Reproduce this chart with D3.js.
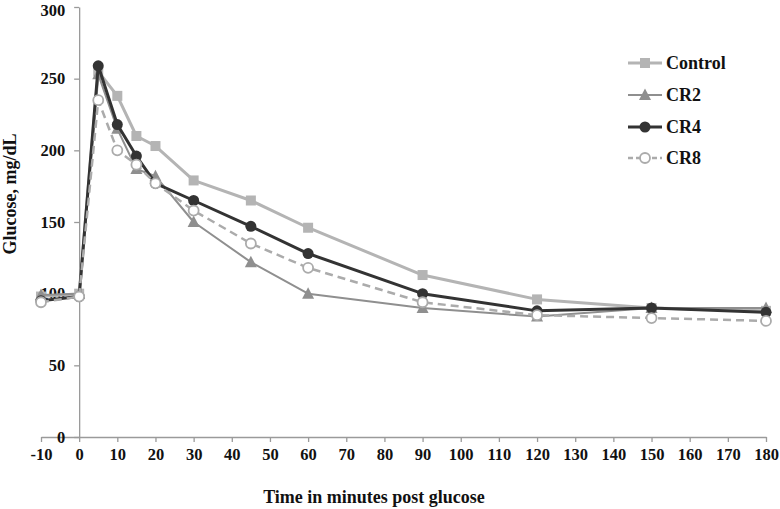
<!DOCTYPE html>
<html>
<head>
<meta charset="utf-8">
<script src="https://cdn.jsdelivr.net/npm/d3@7"></script>
<style>
  body { margin: 0; background: #fff; }
  svg { display: block; }
  text { font-family: "Liberation Serif", "Times New Roman", serif; font-weight: bold; fill: #111; }
</style>
</head>
<body>
<svg id="chart" width="780" height="509"></svg>
<script>
const times = [-10, 0, 5, 10, 15, 20, 30, 45, 60, 90, 120, 150, 180];
const controlVals = [98, 100, 255, 238, 210, 203, 179, 165, 146, 113, 96, 90, 88];
const cr2Vals     = [99, 100, 253, 215, 187, 182, 150, 122, 100, 90, 84, 90, 90];
const cr4Vals     = [95, 98, 259, 218, 196, 177, 165, 147, 128, 100, 88, 90, 87];
const cr8Vals     = [94, 98, 235, 200, 190, 177, 158, 135, 118, 94, 85, 83, 81];
const xTicks = [-10, 0, 10, 20, 30, 40, 50, 60, 70, 80, 90, 100, 110, 120, 130, 140, 150, 160, 170, 180];
const yTicks = [0, 50, 100, 150, 200, 250, 300];
const seriesNames = ["Control", "CR2", "CR4", "CR8"];

const series = [
  { name: seriesNames[0], values: controlVals, color: "#b4b4b4", width: 3, dash: null, marker: "square", fill: "#b4b4b4" },
  { name: seriesNames[1], values: cr2Vals, color: "#8f8f8f", width: 2, dash: null, marker: "triangle", fill: "#8f8f8f" },
  { name: seriesNames[2], values: cr4Vals, color: "#333333", width: 3, dash: null, marker: "circle", fill: "#333333" },
  { name: seriesNames[3], values: cr8Vals, color: "#ababab", width: 2.5, dash: "8,5", marker: "ocircle", fill: "#ffffff" }
];

const svg = d3.select("#chart");
const x = d3.scaleLinear().domain([-10, 180]).range([41, 766]);
const y = d3.scaleLinear().domain([0, 300]).range([437, 7]);
const axisColor = "#9a9a9a";

// x axis
const gx = svg.append("g").attr("transform", `translate(0,${y(0)})`)
  .call(d3.axisBottom(x).tickValues(xTicks).tickSize(5).tickSizeOuter(0).tickPadding(6).tickFormat(d => String(d)));
gx.select(".domain").attr("stroke", axisColor).attr("stroke-width", 1.3);
gx.selectAll(".tick line").attr("stroke", axisColor).attr("stroke-width", 1.3);
gx.selectAll(".tick text").attr("font-size", 16.5).attr("font-family", "Liberation Serif").attr("font-weight", "bold").attr("fill", "#111");

// y axis at x = 0
const gy = svg.append("g").attr("transform", `translate(${x(0)},0)`)
  .call(d3.axisLeft(y).tickValues(yTicks).tickSize(5).tickSizeOuter(0).tickPadding(9).tickFormat(d => String(d)));
gy.select(".domain").attr("stroke", axisColor).attr("stroke-width", 1.3);
gy.selectAll(".tick line").attr("stroke", axisColor).attr("stroke-width", 1.3);
gy.selectAll(".tick text").attr("font-size", 16.5).attr("font-family", "Liberation Serif").attr("font-weight", "bold").attr("fill", "#111");
// keep the top label fully inside the picture
gy.selectAll(".tick").filter(d => d === 300).select("text").attr("dy", "0.5em");

// titles
svg.append("text").attr("x", 374).attr("y", 503).attr("text-anchor", "middle")
  .attr("font-size", 18).text("Time in minutes post glucose");
svg.append("text").attr("transform", "translate(16,194) rotate(-90)").attr("text-anchor", "middle")
  .attr("font-size", 18).text("Glucose, mg/dL");

const line = d3.line().x((d, i) => x(times[i])).y(d => y(d));

function drawMarker(g, type, cx, cy, s) {
  if (type === "square") {
    g.append("rect").attr("x", cx - 5).attr("y", cy - 5).attr("width", 10).attr("height", 10)
      .attr("fill", s.fill);
  } else if (type === "triangle") {
    g.append("path").attr("d", `M${cx},${cy - 6.5}L${cx + 6},${cy + 5}L${cx - 6},${cy + 5}Z`).attr("fill", s.fill);
  } else if (type === "circle") {
    g.append("circle").attr("cx", cx).attr("cy", cy).attr("r", 5.5).attr("fill", s.fill);
  } else {
    g.append("circle").attr("cx", cx).attr("cy", cy).attr("r", 5).attr("fill", "#fff")
      .attr("stroke", s.color).attr("stroke-width", 1.8);
  }
}

series.forEach(s => {
  const g = svg.append("g");
  g.append("path").datum(s.values).attr("d", line).attr("fill", "none")
    .attr("stroke", s.color).attr("stroke-width", s.width)
    .attr("stroke-dasharray", s.dash).attr("stroke-linejoin", "round");
  s.values.forEach((v, i) => drawMarker(g, s.marker, x(times[i]), y(v), s));
});

// legend
const legendY = [63, 95, 127, 158];
series.forEach((s, i) => {
  const g = svg.append("g");
  const ly = legendY[i];
  g.append("line").attr("x1", 628).attr("x2", 662).attr("y1", ly).attr("y2", ly)
    .attr("stroke", s.color).attr("stroke-width", s.width).attr("stroke-dasharray", s.dash ? "5,3" : null);
  drawMarker(g, s.marker, 645, ly, s);
  g.append("text").attr("x", 666).attr("y", ly + 6).attr("font-size", 18).text(s.name);
});
</script>
</body>
</html>
